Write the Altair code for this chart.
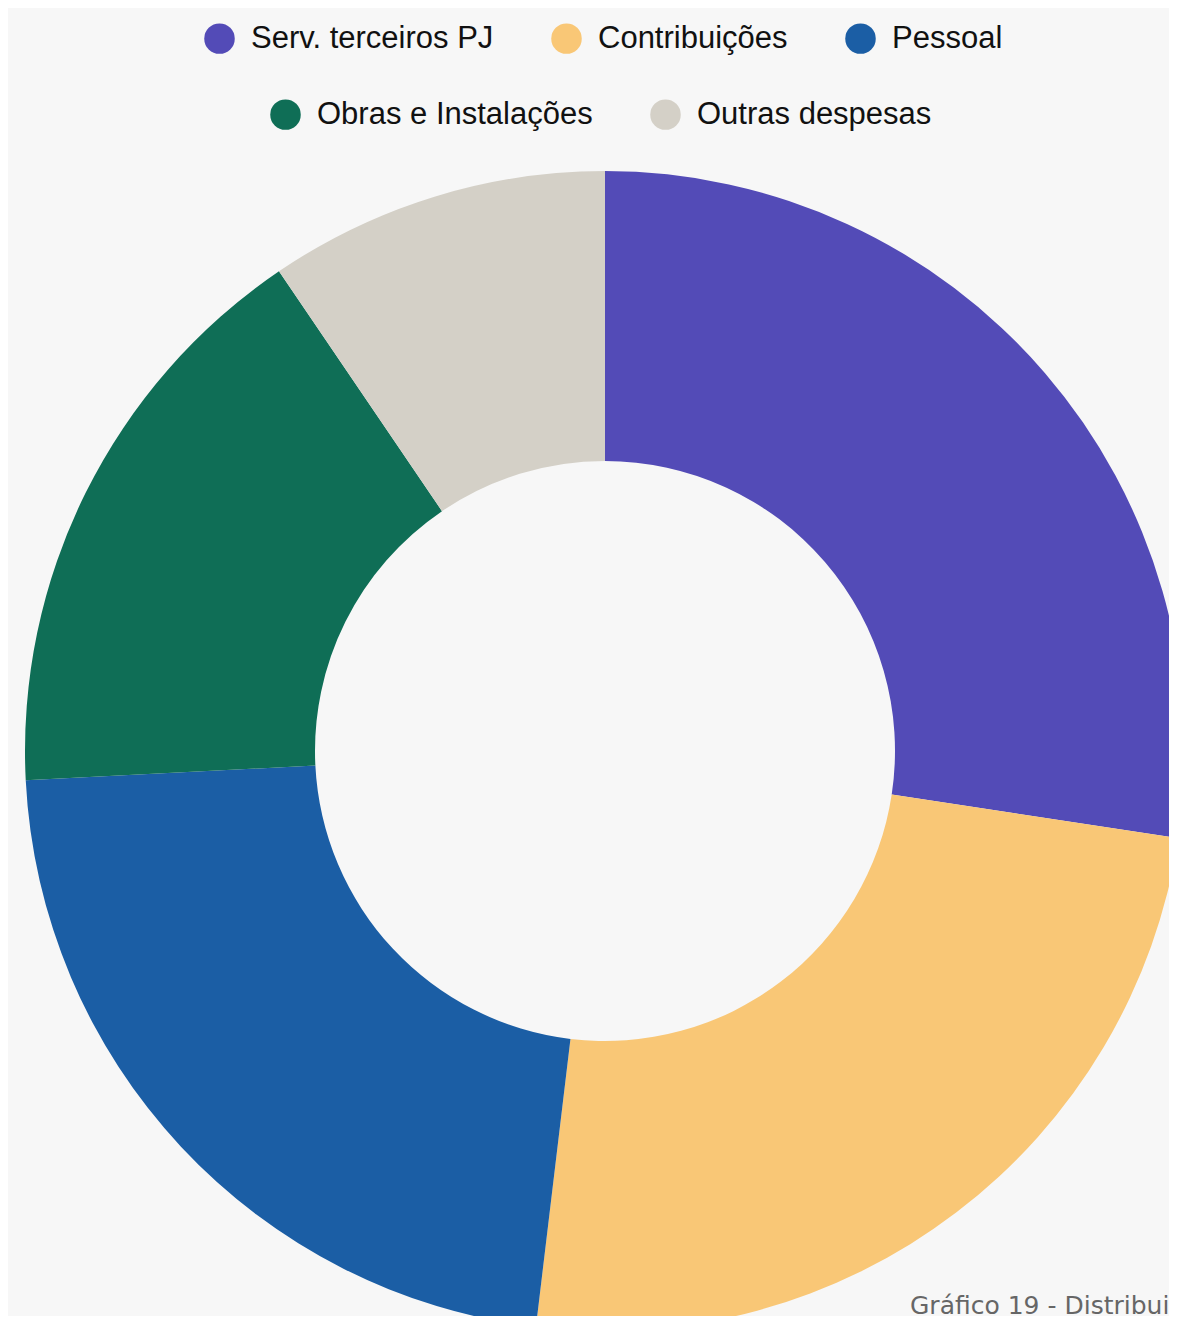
import altair as alt
import pandas as pd

categories = ["Serv. terceiros PJ", "Contribuições", "Pessoal", "Obras e Instalações", "Outras despesas"]
shares = [27.4, 24.5, 22.3, 16.3, 9.5]
colors = ["#534BB7", "#F9C776", "#1B5EA5", "#0F6E56", "#D4D0C7"]
caption = ["Gráfico 19 - Distribuição das despesas"]

df = pd.DataFrame({"cat": categories, "val": shares, "idx": list(range(len(categories)))})

W, H = 1161, 1308
CX, CY = 597, 743
R_OUT, R_IN = 580, 290

arcs = alt.Chart(df).mark_arc(radius=R_OUT, radius2=R_IN).encode(
    theta=alt.Theta("val:Q", stack=True),
    order=alt.Order("idx:Q"),
    color=alt.Color("cat:N", scale=alt.Scale(domain=categories, range=colors), legend=None),
    x=alt.value(CX),
    y=alt.value(CY),
)


def legend_layer(cats, cols, lx, ly):
    sub = df[df["cat"].isin(cats)]
    return alt.Chart(sub).mark_circle(opacity=0).encode(
        color=alt.Color(
            "cat:N",
            scale=alt.Scale(domain=cats, range=cols),
            legend=alt.Legend(
                title=None,
                orient="none",
                legendX=lx,
                legendY=ly,
                direction="horizontal",
                symbolType="circle",
                symbolSize=930,
                symbolOpacity=1,
                symbolStrokeWidth=0,
                labelFont="Liberation Sans",
                labelFontSize=31,
                labelColor="#111111",
                labelOffset=16,
                columnPadding=57,
                padding=0,
                labelLimit=600,
            ),
        ),
        x=alt.value(CX),
        y=alt.value(CY),
    )


leg1 = legend_layer(categories[:3], colors[:3], 196, 15)
leg2 = legend_layer(categories[3:], colors[3:], 262, 91)

cap = alt.Chart(pd.DataFrame({"t": caption})).mark_text(
    align="left", baseline="alphabetic", font="DejaVu Sans", fontSize=25, color="#666666"
).encode(text="t:N", x=alt.value(902), y=alt.value(1306))

chart = (
    alt.layer(arcs, leg1, leg2, cap)
    .resolve_scale(color="independent")
    .properties(width=W, height=H, padding=0, autosize=alt.AutoSizeParams(type="none"), background="#F7F7F7")
    .configure_view(stroke=None)
)

chart.save("out.html", embed_options={"renderer": "svg", "actions": False})
